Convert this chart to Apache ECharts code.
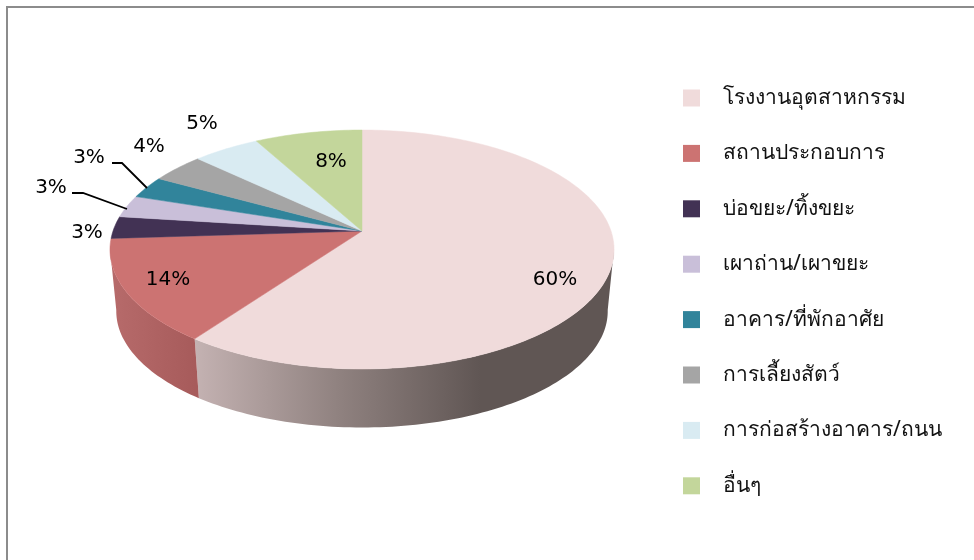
<!DOCTYPE html>
<html>
<head>
<meta charset="utf-8">
<style>
  html, body { margin: 0; padding: 0; background: #fff; }
  #chart { width: 974px; height: 560px; }
</style>
<script src="https://cdn.jsdelivr.net/npm/echarts@6/dist/echarts.min.js"></script>
</head>
<body>
<div id="chart"></div>
<script>
const categories = ['โรงงานอุตสาหกรรม', 'สถานประกอบการ', 'บ่อขยะ/ทิ้งขยะ', 'เผาถ่าน/เผาขยะ', 'อาคาร/ที่พักอาศัย', 'การเลี้ยงสัตว์', 'การก่อสร้างอาคาร/ถนน', 'อื่นๆ']
const shares = [60, 14, 3, 3, 3, 4, 5, 8]
const colors = ['#f0dbdb', '#cc7372', '#423254', '#c9bfd9', '#31849b', '#a5a5a5', '#d9ebf2', '#c3d69b']

// 标签位置 (label centres, picked by eye)
const labelCentres = [[555, 280], [168, 280], [87, 233], [51, 188], [89, 158], [149, 147], [202, 124], [331, 162]]

// pie geometry, perspective squash of a circle
const cx = 362, cy = 231, rx = 249, ry = 116.6, persp = 0.1548
const baseY = 293, baseScale = 0.975
const total = shares.reduce((a, b) => a + b, 0)

const rimPoint = (t, y0, scale) => {
  const u = Math.sin(t), v = -Math.cos(t), w = 1 - persp * v
  return [cx + scale * rx * u / w, y0 + scale * ry * v / w]
}

const wallFill = i => {
  if (i === 0) {
    return new echarts.graphic.LinearGradient(195, 0, 480, 0, [
      { offset: 0, color: '#c4b2b2' },
      { offset: 0.5, color: '#908280' },
      { offset: 1, color: '#605654' }
    ], true)
  }
  if (i === 1) {
    return new echarts.graphic.LinearGradient(115, 0, 195, 0, [
      { offset: 0, color: '#b66a6a' },
      { offset: 1, color: '#a75b5b' }
    ], true)
  }
  return colors[i]
}

const renderSlice = (params, api) => {
  const i = params.dataIndex
  const before = shares.slice(0, i).reduce((a, b) => a + b, 0)
  const t0 = before / total * Math.PI * 2
  const t1 = t0 + api.value(0) / total * Math.PI * 2
  const steps = Math.max(6, Math.round(api.value(0) * 3))

  const top = [[cx, cy]]
  const upper = []
  const lower = []
  for (let s = 0; s <= steps; s++) {
    const t = t0 + (t1 - t0) * s / steps
    top.push(rimPoint(t, cy, 1))
    // only the near side of the wall shows
    if (-Math.cos(t) >= persp - 0.02) {
      upper.push(rimPoint(t, cy, 1))
      lower.push(rimPoint(t, baseY, baseScale))
    }
  }

  const children = []
  if (upper.length > 1) {
    children.push({
      type: 'polygon',
      shape: { points: upper.concat(lower.reverse()) },
      style: { fill: wallFill(i), stroke: null },
      z2: 1
    })
  }
  children.push({
    type: 'polygon',
    shape: { points: top },
    style: { fill: colors[i], stroke: colors[i], lineWidth: 0.5 },
    z2: 2
  })
  children.push({
    type: 'text',
    style: {
      x: labelCentres[i][0],
      y: labelCentres[i][1],
      text: shares[i] + '%',
      fill: '#000',
      font: '20px "DejaVu Sans", sans-serif',
      align: 'center',
      verticalAlign: 'middle'
    },
    z2: 5
  })
  return { type: 'group', children }
}

const chart = echarts.init(document.getElementById('chart'), null, { renderer: 'canvas' })

chart.setOption({
  animation: false,
  legend: {
    orient: 'vertical',
    left: 678,
    top: 79,
    itemWidth: 17,
    itemHeight: 17,
    itemGap: 27.4,
    icon: 'rect',
    selectedMode: false,
    data: categories,
    formatter: '{t|{name}}',
    textStyle: {
      rich: {
        t: {
          color: '#111',
          fontSize: 21,
          lineHeight: 28,
          height: 28,
          verticalAlign: 'bottom',
          padding: [0, 0, 0, 18],
          fontFamily: '"Noto Sans", "DejaVu Sans", sans-serif'
        }
      }
    }
  },
  graphic: [
    { type: 'polyline', shape: { points: [[112, 163], [122, 163], [147, 188]] }, style: { stroke: '#000', lineWidth: 1.8, fill: null }, z: 10 },
    { type: 'polyline', shape: { points: [[72, 193], [83, 193], [127, 209]] }, style: { stroke: '#000', lineWidth: 1.8, fill: null }, z: 10 },
    { type: 'polyline', shape: { points: [[7, 562], [7, 7], [976, 7]] }, style: { stroke: '#8c8c8c', lineWidth: 2, fill: null }, z: 10 }
  ],
  series: [
    {
      type: 'custom',
      coordinateSystem: 'none',
      silent: true,
      data: shares.map(v => [v]),
      renderItem: renderSlice
    },
    {
      // only here to feed the legend
      type: 'pie',
      radius: [0, 0],
      center: [cx, cy],
      silent: true,
      label: { show: false },
      labelLine: { show: false },
      data: categories.map((name, i) => ({ name, value: shares[i], itemStyle: { color: colors[i] } }))
    }
  ]
})
</script>
</body>
</html>
